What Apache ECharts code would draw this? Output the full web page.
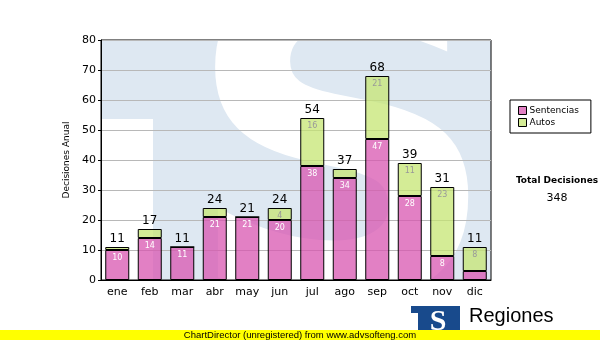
<!DOCTYPE html>
<html>
<head>
<meta charset="utf-8">
<script src="https://cdn.jsdelivr.net/npm/echarts@6/dist/echarts.min.js"></script>
<style>html,body{margin:0;padding:0;background:#fff}#c{width:600px;height:340px}</style>
</head>
<body>
<div id="c"></div>
<script>
const categories = ['ene','feb','mar','abr','may','jun','jul','ago','sep','oct','nov','dic'];
const sentencias = [10,14,11,21,21,20,38,34,47,28,8,3];
const autos = [1,3,0,3,0,4,16,3,21,11,23,8];
const totals = [11,17,11,24,21,24,54,37,68,39,31,11];
const grandTotal = 348;
const yTicks = {min:0, max:80, interval:10};

const F = 'DejaVu Sans';
const chart = echarts.init(document.getElementById('c'), null, {renderer:'canvas'});
const inLabel = (color) => ({
  show:true, position:'insideTop', distance:4, fontFamily:F, fontSize:8, color:color,
  formatter: p => p.value >= 4 ? String(p.value) : ''
});
chart.setOption({
  animation:false,
  grid:{left:101, top:40, width:390, height:240, show:true, borderColor:'#000', borderWidth:1, backgroundColor:'transparent'},
  graphic:[
    {type:'rect', z:-20, silent:true, shape:{x:101,y:40,width:390,height:240}, style:{fill:'#dee8f2'}},
    {type:'rect', z:-19, silent:true, shape:{x:101,y:119,width:52,height:161}, style:{fill:'#fff'}},
    {type:'text', z:-18, silent:true, x:342, y:180, style:{text:'S', fontFamily:'DejaVu Sans', fontWeight:'bold', fontSize:440, fill:'#fff', align:'center', verticalAlign:'middle'}},
    {type:'rect', z:-17, silent:true, shape:{x:0,y:0,width:101,height:340}, style:{fill:'#fff'}},
    {type:'rect', z:-17, silent:true, shape:{x:0,y:280,width:600,height:60}, style:{fill:'#fff'}},
    {type:'rect', z:-17, silent:true, shape:{x:491,y:0,width:109,height:340}, style:{fill:'#fff'}},
    {type:'rect', z:-17, silent:true, shape:{x:0,y:0,width:600,height:40}, style:{fill:'#fff'}},
    {type:'rect', z:50, silent:true, shape:{x:411,y:306,width:49,height:30}, style:{fill:'#184a8c'}},
    {type:'rect', z:51, silent:true, shape:{x:411,y:313,width:7,height:20}, style:{fill:'#fff'}},
    {type:'text', z:51, silent:true, x:438, y:322, style:{text:'S', fontFamily:'Liberation Serif', fontWeight:'bold', fontSize:30, fill:'#fff', align:'center', verticalAlign:'middle'}},
    {type:'text', z:50, silent:true, x:469, y:316, style:{text:'Regiones', fontFamily:'Liberation Sans', fontSize:20, fill:'#000', align:'left', verticalAlign:'middle'}},
    {type:'rect', z:60, silent:true, shape:{x:0,y:330,width:600,height:10}, style:{fill:'#ffff00'}},
    {type:'text', z:61, silent:true, x:300, y:335, style:{text:'ChartDirector (unregistered) from www.advsofteng.com', fontFamily:'Liberation Sans', fontSize:9.5, fill:'#000', align:'center', verticalAlign:'middle'}},
  ],
  title:{
    text:'Total Decisiones', subtext:String(grandTotal), left:552, top:171, textAlign:'center', itemGap:8,
    textStyle:{fontFamily:F, fontWeight:'bold', fontSize:9, color:'#000'},
    subtextStyle:{fontFamily:F, fontSize:11, color:'#000'}
  },
  legend:{
    data:['Sentencias','Autos'], orient:'vertical', left:510, top:100, itemWidth:8, itemHeight:8, itemGap:3,
    padding:[6,12,6,8], backgroundColor:'#fff', borderColor:'#000', borderWidth:1, icon:'rect',
    textStyle:{fontFamily:F, fontSize:9, color:'#000', padding:[0,0,0,-2]},
    itemStyle:{borderColor:'#000', borderWidth:1}
  },
  xAxis:{
    type:'category', data:categories,
    axisLine:{lineStyle:{color:'#000', width:1}},
    axisTick:{alignWithLabel:true, length:3, lineStyle:{color:'#000'}},
    axisLabel:{fontFamily:F, fontSize:11, color:'#000', margin:7}
  },
  yAxis:{
    type:'value', min:yTicks.min, max:yTicks.max, interval:yTicks.interval,
    name:'Decisiones Anual', nameLocation:'middle', nameGap:23,
    nameTextStyle:{fontFamily:F, fontSize:9, color:'#000'},
    axisLine:{show:true, lineStyle:{color:'#000', width:1}},
    axisTick:{show:true, length:3, lineStyle:{color:'#000'}},
    axisLabel:{fontFamily:F, fontSize:11, color:'#000', margin:5},
    splitLine:{lineStyle:{color:'#b8b8b8', width:1}}
  },
  series:[
    {name:'Sentencias', type:'bar', stack:'a', data:sentencias, barWidth:24,
     itemStyle:{color:'rgba(216,86,176,0.75)', borderColor:'#000', borderWidth:1},
     label:inLabel('#fff')},
    {name:'Autos', type:'bar', stack:'a', data:autos, barWidth:24,
     itemStyle:{color:'rgba(198,230,115,0.75)', borderColor:'#000', borderWidth:1},
     label:inLabel('#999')},
    {name:'Total', type:'bar', stack:'a', data:totals.map(()=>0), barWidth:24,
     itemStyle:{color:'transparent', borderWidth:0},
     label:{show:true, position:'top', distance:2, fontFamily:F, fontSize:12, color:'#000',
            formatter: p => String(totals[p.dataIndex])}}
  ]
});
</script>
</body>
</html>
